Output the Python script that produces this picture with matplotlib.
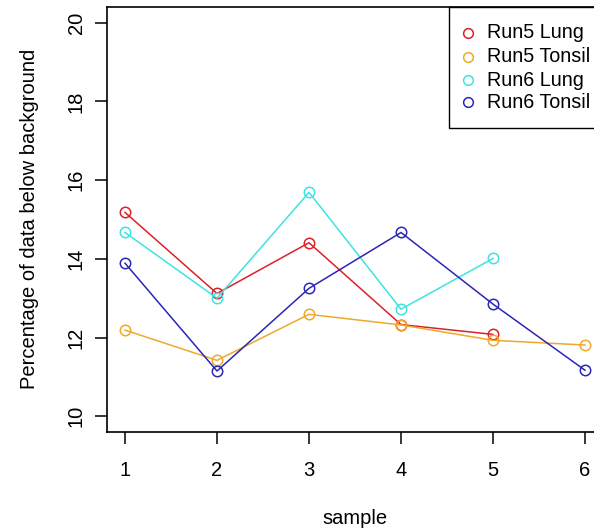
import matplotlib
matplotlib.use("Agg")
import matplotlib.pyplot as plt
from matplotlib.patches import Rectangle

plt.rcParams['font.family'] = ['Liberation Sans', 'DejaVu Sans']

samples = [1, 2, 3, 4, 5, 6]
run5_lung = [15.18, 13.12, 14.41, 12.33, 12.08]
run5_tonsil = [12.19, 11.42, 12.59, 12.32, 11.93, 11.81]
run6_lung = [14.67, 13.00, 15.69, 12.72, 14.01]
run6_tonsil = [13.89, 11.15, 13.25, 14.67, 12.85, 11.17]

series = [
    ("Run5 Lung", run5_lung, "#DD2128"),
    ("Run5 Tonsil", run5_tonsil, "#EFA92A"),
    ("Run6 Lung", run6_lung, "#3FE3E3"),
    ("Run6 Tonsil", run6_tonsil, "#2B27B5"),
]
y_ticks = [10, 12, 14, 16, 18, 20]

W, H = 594, 531
fig = plt.figure(figsize=(W / 100, H / 100), dpi=100)
left_px, right_px, top_px, bottom_px = 106.6, 603.4, 7, 432
ax = fig.add_axes([left_px / W, (H - bottom_px) / H,
                   (right_px - left_px) / W, (bottom_px - top_px) / H])

for name, vals, col in series:
    ax.plot(samples[:len(vals)], vals, color=col, lw=1.1,
            marker='o', markersize=7.5, markerfacecolor='none',
            markeredgecolor=col, markeredgewidth=1.1)

fs = 14.5
ax.set_xlim(0.8, 6.2)
ax.set_ylim(9.6, 20.4)
ax.set_xticks(samples)
ax.set_yticks(y_ticks)
ax.set_yticklabels([str(t) for t in y_ticks], rotation=90, va='center')
ax.tick_params(axis='both', length=8.5, width=1.1, labelsize=fs, direction='out')
ax.tick_params(axis='x', pad=12.5)
ax.tick_params(axis='y', pad=6.5)
for s in ax.spines.values():
    s.set_linewidth(1.2)

fig.text(355 / W, 1 - 518 / H, "sample", ha='center', va='center', fontsize=fs)
fig.text(30 / W, 1 - 219 / H, "Percentage of data below background",
         ha='center', va='center', rotation=90, fontsize=fs)

# legend box (top-right)
def ax_x(px):
    return (px - left_px) / (right_px - left_px)

def ax_y(py):
    return (bottom_px - py) / (bottom_px - top_px)

ax.add_patch(Rectangle((ax_x(449), ax_y(128)), 1 - ax_x(449), 1 - ax_y(128),
                       transform=ax.transAxes, fill=False, edgecolor='black',
                       lw=1.0, clip_on=False, zorder=5))
rows_px = [33, 57, 80, 102]
for (name, vals, col), ry in zip(series, rows_px):
    ax.plot([ax_x(468)], [ax_y(ry)], transform=ax.transAxes, marker='o',
            markersize=7, markerfacecolor='none', markeredgecolor=col,
            markeredgewidth=1.1, clip_on=False, zorder=6)
    ax.text(ax_x(487), ax_y(ry), name, transform=ax.transAxes,
            ha='left', va='center', fontsize=14.2, clip_on=False, zorder=6)

fig.savefig("out.png", dpi=100)
